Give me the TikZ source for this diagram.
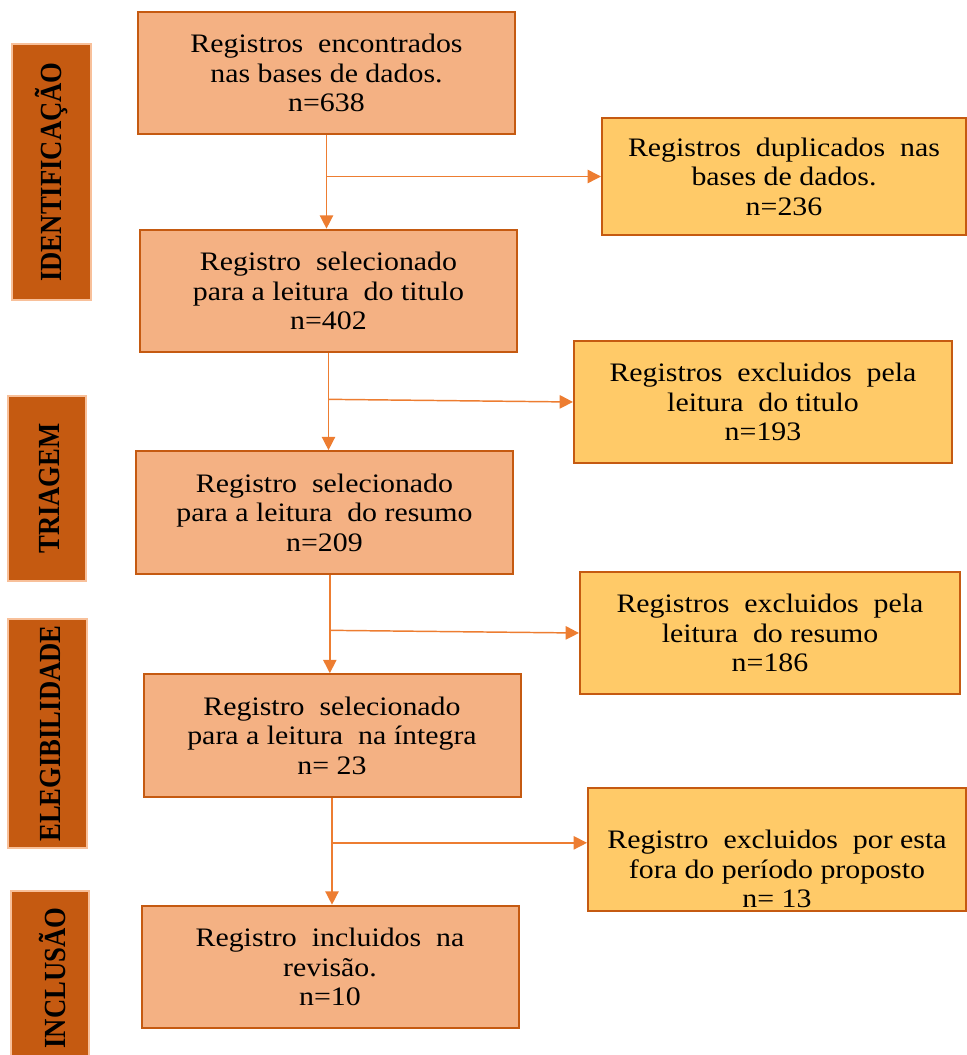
\documentclass[tikz,border=0pt]{standalone}
\usepackage{fontspec}
\setmainfont{Liberation Serif}
\newfontfamily\boxfont[FakeStretch=1.12]{Liberation Serif}
\usepackage{tikz}
\usetikzlibrary{positioning,calc,arrows.meta}

\definecolor{mainfill}{HTML}{F4B183}
\definecolor{mainline}{HTML}{C55A11}
\definecolor{sidefill}{HTML}{FFCA68}
\definecolor{stagefill}{HTML}{C55A11}
\definecolor{stageline}{HTML}{F8C09A}
\definecolor{flowline}{HTML}{ED7D31}

\begin{document}
\begin{tikzpicture}[x=0.75pt,y=-0.75pt,
    mainbox/.style={draw=mainline, fill=mainfill, line width=1.5pt, minimum width=282.75pt,
        minimum height=92pt, align=center, inner sep=0pt,
        font=\boxfont\fontsize{20}{22.2}\selectfont},
    sidebox/.style={mainbox, fill=sidefill},
    stagebox/.style={draw=stageline, fill=stagefill, line width=1.5pt, inner sep=0pt},
    stagetext/.style={rotate=90, yscale=1.15, font=\bfseries\fontsize{20}{22}\selectfont},
    flow/.style={draw=flowline, line width=1.1pt, -{Triangle[width=10pt,length=10pt]}}]
    \useasboundingbox (0,0) rectangle (966,1055);

    % fases
    \node [stagebox, minimum width=59pt, minimum height=192pt] (t1) at (51.5,172) {};
    \node [stagetext] (t1txt) at (t1.center) {IDENTIFICAÇÃO};
    \node [stagebox, minimum width=58.5pt, minimum height=139pt] (t2) at (47,488.5) {};
    \node [stagetext] (t2txt) at ([xshift=2pt]t2.center) {TRIAGEM};
    \node [stagebox, minimum width=59pt, minimum height=172pt] (t3) at (47.5,733.5) {};
    \node [stagetext] (t3txt) at ([xshift=2pt]t3.center) {ELEGIBILIDADE};
    \node [stagebox, minimum width=58.5pt, minimum height=130pt] (t4) at (50,978) {};
    \node [stagetext] (t4txt) at ([xshift=2pt]t4.center) {INCLUSÃO};

    % caixas principais
    \node [mainbox] (b1) at (326.5,73) {Registros\ \ encontrados\\ nas bases de dados.\\ n=638};
    \node [mainbox] (b2) at (328.5,291) {Registro\ \ selecionado\\ para a leitura\ \ do titulo\\ n=402};
    \node [mainbox] (b3) at (324.5,512.5) {Registro\ \ selecionado\\ para a leitura\ \ do resumo\\ n=209};
    \node [mainbox] (b4) at (332,735.5) {Registro\ \ selecionado\\ para a leitura\ \ na íntegra\\ n= 23};
    \node [mainbox] (b5) at (330,967) {Registro\ \ incluidos\ \ na\\ revisão.\\ n=10};

    % caixas de exclusao
    \node [sidebox, minimum width=273pt, minimum height=87.75pt] (s1) at (784,176.5) {Registros\ \ duplicados\ \ nas\\ bases de dados.\\ n=236};
    \node [sidebox, minimum width=283.5pt] (s2) at (763,402) {Registros\ \ excluidos\ \ pela\\ leitura\ \ do titulo\\ n=193};
    \node [sidebox, minimum width=285pt] (s3) at (770,633) {Registros\ \ excluidos\ \ pela\\ leitura\ \ do resumo\\ n=186};
    \node [sidebox, minimum width=283.5pt] (s4) at (777,849.5) {};
    \node [align=center, font=\boxfont\fontsize{20}{22.2}\selectfont] (s4txt) at (777,869)
        {Registro\ \ excluidos\ \ por esta\\ fora\ do período\ proposto\\ n= 13};

    % setas
    \draw [flow] (b1.south) -- (b1.south |- b2.north);
    \draw [flow] (b2.south) -- (b2.south |- b3.north);
    \draw [flow] ([xshift=4pt]b3.south) -- ([xshift=4pt]b3.south |- b4.north);
    \draw [flow] (b4.south) -- (b4.south |- b5.north);
    \draw [flow] (b1.south |- s1.west) -- (s1.west);
    \draw [flow] ([yshift=2pt]b2.south |- s2.west) -- (s2.west);
    \draw [flow] ([xshift=4pt,yshift=2pt]b3.south |- s3.west) -- (s3.west);
    \draw [flow] ([yshift=5pt]b4.south |- s4.west) -- ([yshift=5pt]s4.west);
\end{tikzpicture}
\end{document}
